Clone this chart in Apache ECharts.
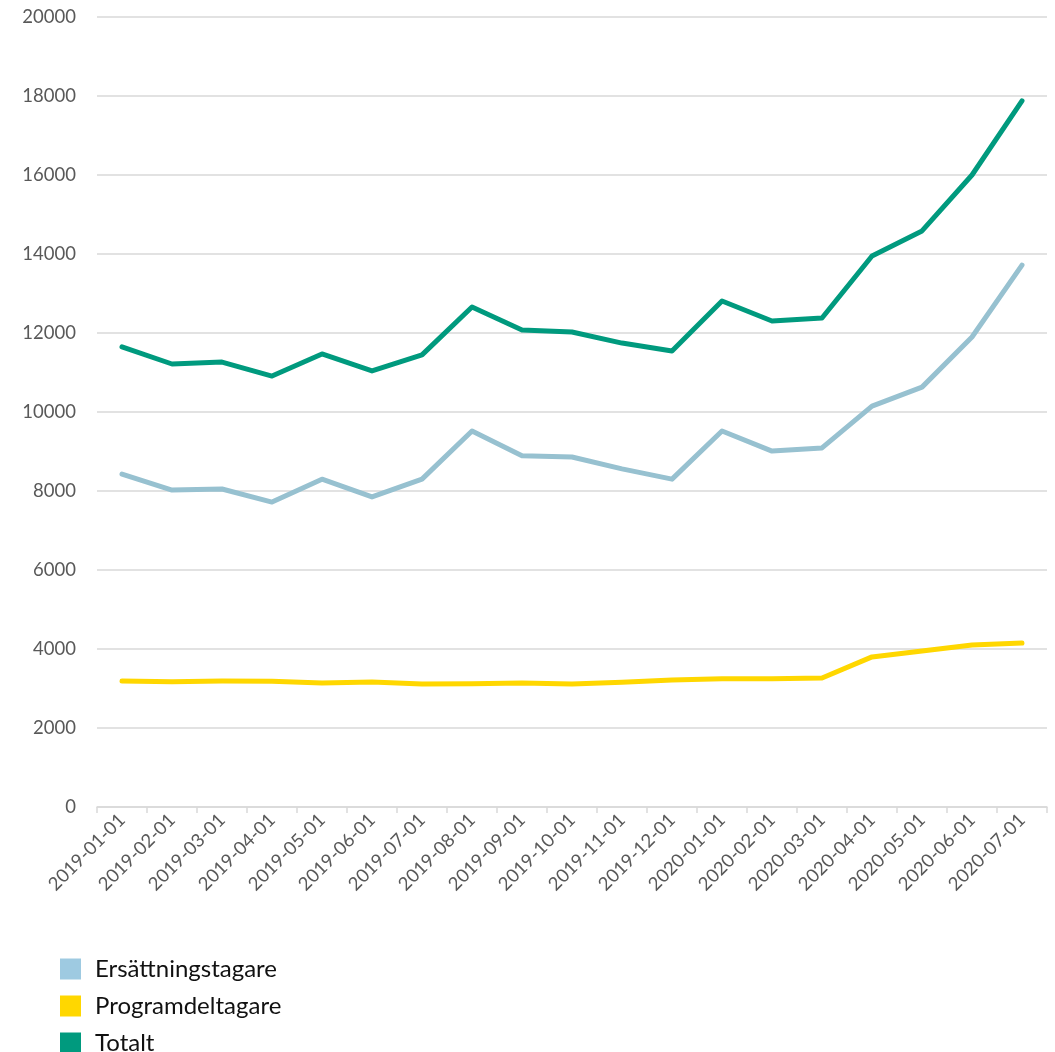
<!DOCTYPE html>
<html>
<head>
<meta charset="utf-8">
<script src="https://cdn.jsdelivr.net/npm/echarts@6/dist/echarts.min.js"></script>
<style>
  html, body { margin: 0; padding: 0; background: #fff; }
  #chart { width: 1055px; height: 1052px; }
</style>
</head>
<body>
<div id="chart"></div>
<script>
// månader
const months = ['2019-01-01', '2019-02-01', '2019-03-01', '2019-04-01', '2019-05-01', '2019-06-01',
  '2019-07-01', '2019-08-01', '2019-09-01', '2019-10-01', '2019-11-01', '2019-12-01',
  '2020-01-01', '2020-02-01', '2020-03-01', '2020-04-01', '2020-05-01', '2020-06-01', '2020-07-01'];

const ersattning = [8430, 8025, 8050, 7720, 8300, 7850, 8300, 9520, 8890, 8860, 8560, 8300,
  9520, 9010, 9090, 10150, 10630, 11900, 13720];

const program = [3190, 3170, 3190, 3185, 3140, 3165, 3115, 3120, 3140, 3115, 3160, 3215,
  3245, 3250, 3265, 3800, 3950, 4100, 4150];

const totalt = [11650, 11215, 11265, 10910, 11470, 11040, 11445, 12660, 12075, 12025, 11745, 11545,
  12810, 12305, 12380, 13950, 14585, 16000, 17875];

const yTicks = { min: 0, max: 20000, interval: 2000 };

let myChart = echarts.init(document.getElementById('chart'));

let lineStyle = (color) => ({ width: 5, color: color, cap: 'round', join: 'round' });

let option = {
  animation: false,
  grid: { left: 97, right: 8, top: 17, bottom: 245 },
  textStyle: { fontFamily: 'Lato' },
  legend: {
    orient: 'vertical',
    left: 55,
    top: 952,
    height: 110,
    itemWidth: 21,
    itemHeight: 21,
    itemGap: 13,
    icon: 'rect',
    textStyle: { fontSize: 24, color: '#111', fontFamily: 'Lato', padding: [0, 0, 0, 9] },
    data: [
      { name: 'Ersättningstagare', itemStyle: { color: '#9ECAE1' } },
      { name: 'Programdeltagare', itemStyle: { color: '#FFD700' } },
      { name: 'Totalt', itemStyle: { color: '#009A7E' } }
    ]
  },
  xAxis: {
    type: 'category',
    data: months,
    boundaryGap: true,
    axisLine: { lineStyle: { color: '#d9d9d9', width: 1.5 } },
    axisTick: { show: true, length: 6, lineStyle: { color: '#d9d9d9', width: 1.5 } },
    axisLabel: { rotate: 45, color: '#595959', fontSize: 18.5, fontFamily: 'Lato', margin: 10, interval: 0 }
  },
  yAxis: {
    type: 'value',
    min: yTicks.min,
    max: yTicks.max,
    interval: yTicks.interval,
    axisLine: { show: false },
    axisTick: { show: false },
    axisLabel: { color: '#595959', fontSize: 18.5, fontFamily: 'Lato', margin: 21,
      formatter: (v) => String(v) },
    splitLine: { lineStyle: { color: '#d9d9d9', width: 1.5 } }
  },
  series: [
    { name: 'Ersättningstagare', type: 'line', data: ersattning, symbol: 'none',
      itemStyle: { color: '#97C1D0' }, lineStyle: lineStyle('#97C1D0') },
    { name: 'Programdeltagare', type: 'line', data: program, symbol: 'none',
      itemStyle: { color: '#FFD700' }, lineStyle: lineStyle('#FFD700') },
    { name: 'Totalt', type: 'line', data: totalt, symbol: 'none',
      itemStyle: { color: '#009A7E' }, lineStyle: lineStyle('#009A7E') }
  ]
};

myChart.setOption(option);
</script>
</body>
</html>
